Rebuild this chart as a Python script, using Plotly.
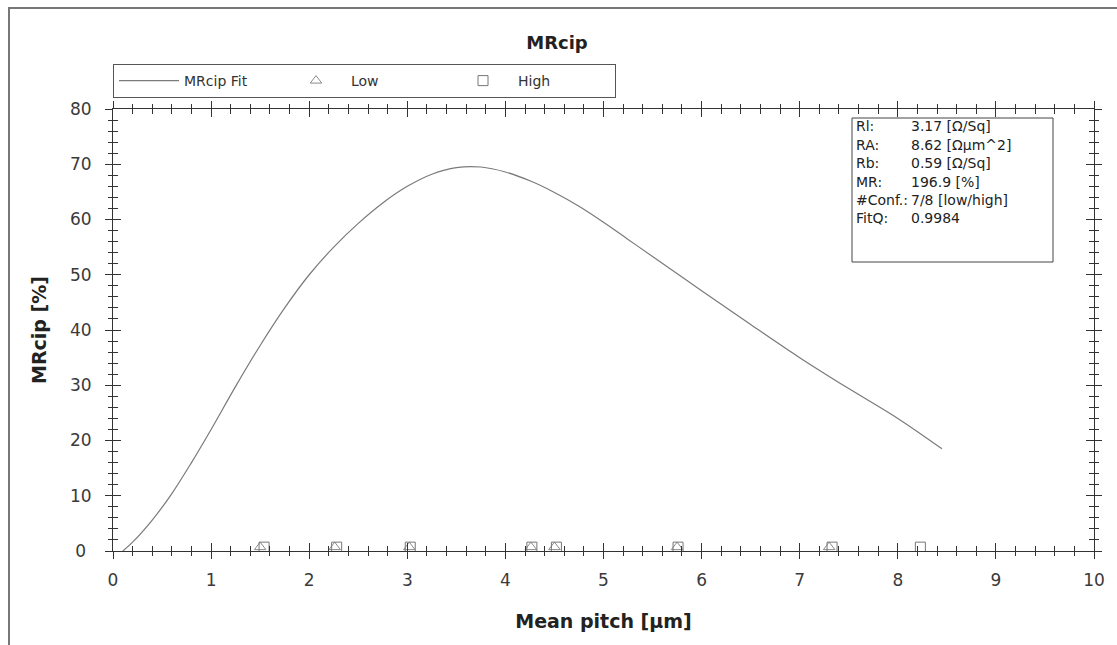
import plotly.graph_objects as go

# Fit curve
fit_x = [0.1, 0.2, 0.4, 0.6, 0.8, 1.0, 1.25, 1.5, 1.75, 2.0, 2.25, 2.5, 2.75, 3.0, 3.25,
         3.5, 3.75, 4.0, 4.25, 4.5, 4.75, 5.0, 5.25, 5.5, 6.0, 6.5, 7.0, 7.5, 8.0, 8.45]
fit_y = [0.0, 1.6, 5.6, 10.4, 16.0, 22.0, 29.8, 37.2, 44.0, 50.0, 55.0, 59.3, 63.0, 66.0, 68.2,
         69.4, 69.5, 68.6, 67.0, 64.9, 62.4, 59.5, 56.4, 53.3, 47.1, 41.0, 35.0, 29.4, 24.0, 18.5]

# Measured points
low_x = [1.5, 2.26, 3.02, 4.26, 4.5, 5.75, 7.3]
low_y = [0.7, 0.7, 0.7, 0.7, 0.7, 0.7, 0.7]
high_x = [1.54, 2.28, 3.03, 4.27, 4.52, 5.76, 7.33, 8.23]
high_y = [0.7, 0.7, 0.7, 0.7, 0.7, 0.7, 0.7, 0.7]

x_ticks = [0, 1, 2, 3, 4, 5, 6, 7, 8, 9, 10]
y_ticks = [0, 10, 20, 30, 40, 50, 60, 70, 80]
y_ticktext = ["0\u2004", "10", "20", "30", "40", "50", "60", "70", "80"]

stat_labels = ["Rl:", "RA:", "Rb:", "MR:", "#Conf.:", "FitQ:"]
stat_values = ["3.17 [Ω/Sq]", "8.62 [Ωµm^2]", "0.59 [Ω/Sq]", "196.9 [%]", "7/8 [low/high]", "0.9984"]

FONT = "DejaVu Sans, Liberation Sans, sans-serif"
AX = "#333333"
TK = "#3a3a3a"

fig = go.Figure()
fig.add_trace(go.Scatter(x=fit_x, y=fit_y, mode="lines", name="MRcip Fit",
                         line=dict(color="#7a7a7a", width=1.2, shape="spline", smoothing=1.0)))
fig.add_trace(go.Scatter(x=low_x, y=low_y, mode="markers", name="Low",
                         marker=dict(symbol="triangle-up-open", size=10, color="#8a8a8a",
                                     line=dict(width=1))))
fig.add_trace(go.Scatter(x=high_x, y=high_y, mode="markers", name="High",
                         marker=dict(symbol="square-open", size=10, color="#777777",
                                     line=dict(width=1))))
# dummy trace on overlay axes to activate them
fig.add_trace(go.Scatter(x=[None], y=[None], xaxis="x2", yaxis="y2", showlegend=False,
                         hoverinfo="skip"))

common = dict(showgrid=False, zeroline=False, showline=True, linecolor=AX, linewidth=1,
              tickcolor=AX)
fig.update_layout(
    width=1117, height=645,
    margin=dict(l=113, r=23, t=109, b=94),
    paper_bgcolor="white", plot_bgcolor="white",
    font=dict(family=FONT, color=TK, size=13),
    title=dict(text="<b>MRcip</b>", x=(557 - 113) / 981, xref="paper", xanchor="center",
               y=1 - 43 / 645, yanchor="middle",
               font=dict(size=18, color="#222222")),
    xaxis=dict(range=[0, 10], tickvals=x_ticks, ticks="inside", ticklen=8, mirror="allticks",
               showticklabels=False,
               minor=dict(dtick=0.2, ticks="inside", ticklen=5, tickcolor=AX), **common),
    yaxis=dict(range=[0, 80], tickvals=y_ticks, ticks="inside", ticklen=8, mirror="allticks",
               showticklabels=False,
               minor=dict(dtick=2, ticks="inside", ticklen=5, tickcolor=AX), **common),
    xaxis2=dict(range=[0, 10], tickvals=x_ticks, ticks="outside", ticklen=7, overlaying="x",
                anchor="y2", side="bottom", mirror="allticks",
                minor=dict(dtick=0.2, ticks="outside", ticklen=4, tickcolor=AX),
                tickfont=dict(size=17, color=TK),
                title=dict(text="<b>Mean pitch [µm]</b>", font=dict(size=19, color="#222222"),
                           standoff=25),
                ticklabelstandoff=7, **common),
    yaxis2=dict(range=[0, 80], tickvals=y_ticks, ticktext=y_ticktext, ticks="outside",
                ticklen=7, overlaying="y",
                anchor="x2", side="left", mirror="allticks",
                minor=dict(dtick=2, ticks="outside", ticklen=4, tickcolor=AX),
                tickfont=dict(size=17, color=TK),
                title=dict(text="<b>MRcip [%]</b>", font=dict(size=19, color="#222222"),
                           standoff=18),
                ticklabelstandoff=10, **common),
    legend=dict(orientation="h", x=0, xanchor="left", y=1 + 11 / 442, yanchor="bottom",
                bordercolor="#555555", borderwidth=1, bgcolor="white",
                entrywidth=92, entrywidthmode="pixels", font=dict(size=14, color="#333333"),
                itemwidth=60, tracegroupgap=0),
    showlegend=True,
)

# outer frame
fig.add_shape(type="rect", xref="paper", yref="paper",
              x0=-104 / 981, x1=1.05, y0=-0.3, y1=1 + 101 / 442,
              line=dict(color="#777777", width=2), layer="below")

# stats box
fig.add_shape(type="rect", xref="paper", yref="paper",
              x0=(852 - 113) / 981, x1=(1053 - 113) / 981,
              y0=(551 - 262) / 442, y1=(551 - 118) / 442,
              line=dict(color="#444444", width=1), fillcolor="white")
row_y = [126, 145, 163, 182, 200, 218]
for lab, val, ry in zip(stat_labels, stat_values, row_y):
    fig.add_annotation(xref="paper", yref="paper", x=(854 - 113) / 981, y=(551 - ry) / 442,
                       xanchor="left", yanchor="middle", showarrow=False,
                       text=lab, font=dict(size=14, color="#222222"))
    fig.add_annotation(xref="paper", yref="paper", x=(909 - 113) / 981, y=(551 - ry) / 442,
                       xanchor="left", yanchor="middle", showarrow=False,
                       text=val, font=dict(size=14, color="#222222"))

fig.write_html("out.html")
